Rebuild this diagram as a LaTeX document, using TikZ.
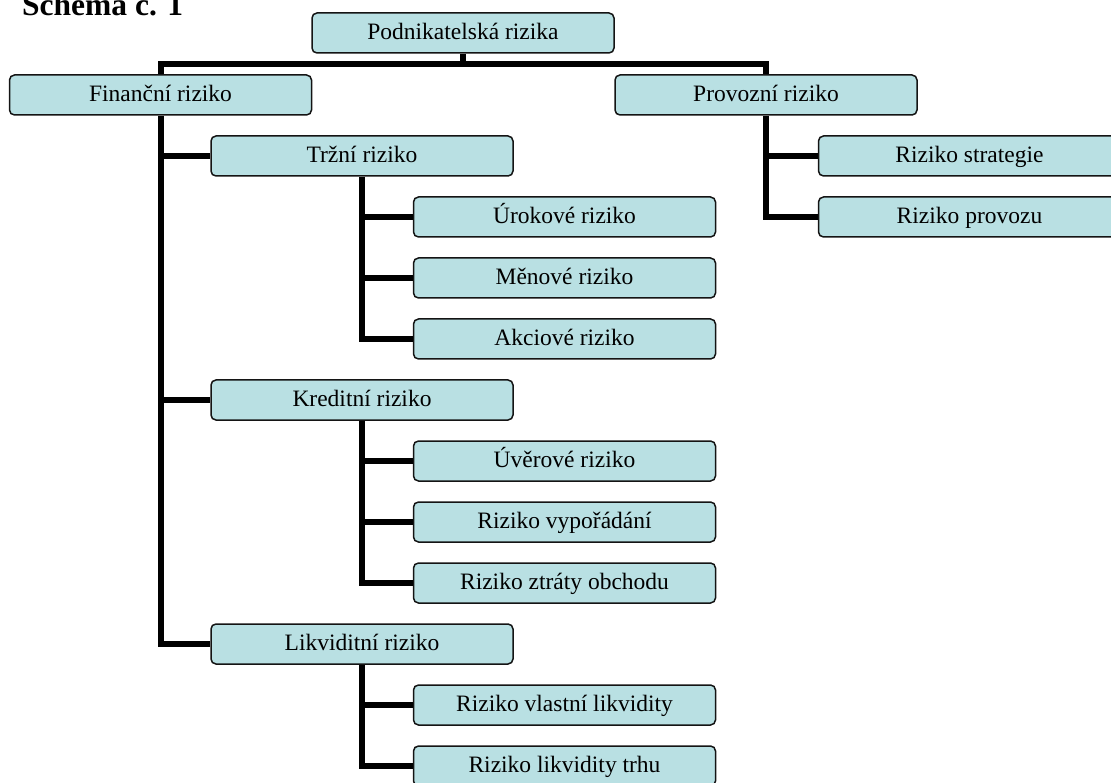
\documentclass[tikz,border=0pt]{standalone}
\usepackage{fontspec}
\setmainfont{Liberation Serif}
\usetikzlibrary{backgrounds}
\definecolor{boxfill}{RGB}{185,224,227}
\definecolor{boxline}{RGB}{20,20,20}
\tikzset{
  rbox/.style={draw=boxline, line width=1.5pt, fill=boxfill, rounded corners=5pt,
    minimum width=302pt, minimum height=40pt, inner sep=0pt,
    text height=17pt, text depth=3.6pt,
    font=\fontsize{23.5pt}{26pt}\selectfont, text=black},
  conn/.style={line width=6pt, draw=black, line join=miter, line cap=butt}
}
\begin{document}
\begin{tikzpicture}[x=1pt,y=-1pt]
\useasboundingbox (0,0) rectangle (1111,783);
\clip (0,0) rectangle (1111,783);
\node[anchor=base west, inner sep=0pt, font=\fontsize{31.5pt}{34pt}\selectfont\bfseries] (title) at (22,16) {Schéma č. 1};
\node[rbox] (pod) at (463,33) {Podnikatelská rizika};
\node[rbox] (fin) at (160.5,95) {Finanční riziko};
\node[rbox] (pro) at (766,95) {Provozní riziko};
\node[rbox] (trz) at (362,156) {Tržní riziko};
\node[rbox] (uro) at (564.5,217) {Úrokové riziko};
\node[rbox] (men) at (564.5,278) {Měnové riziko};
\node[rbox] (akc) at (564.5,339) {Akciové riziko};
\node[rbox] (kre) at (362,400) {Kreditní riziko};
\node[rbox] (uve) at (564.5,461) {Úvěrové riziko};
\node[rbox] (vyp) at (564.5,522) {Riziko vypořádání};
\node[rbox] (ztr) at (564.5,583) {Riziko ztráty obchodu};
\node[rbox] (lik) at (362,644) {Likviditní riziko};
\node[rbox] (vla) at (564.5,705) {Riziko vlastní likvidity};
\node[rbox] (trh) at (564.5,766) {Riziko likvidity trhu};
\node[rbox] (str) at (969.5,156) {Riziko strategie};
\node[rbox] (prv) at (969.5,217) {Riziko provozu};
\coordinate (j0) at (463,64);
\begin{scope}[on background layer]
\draw[conn] (pod.south) -- (j0);
\draw[conn] (fin.north) -- (fin.north |- j0) -- (pro.north |- j0) -- (pro.north);
\draw[conn] (fin.south) |- (lik.west);
\draw[conn] (fin.south |- trz.west) -- (trz.west);
\draw[conn] (fin.south |- kre.west) -- (kre.west);
\draw[conn] (trz.south) |- (akc.west);
\draw[conn] (trz.south |- uro.west) -- (uro.west);
\draw[conn] (trz.south |- men.west) -- (men.west);
\draw[conn] (kre.south) |- (ztr.west);
\draw[conn] (kre.south |- uve.west) -- (uve.west);
\draw[conn] (kre.south |- vyp.west) -- (vyp.west);
\draw[conn] (lik.south) |- (trh.west);
\draw[conn] (lik.south |- vla.west) -- (vla.west);
\draw[conn] (pro.south) |- (prv.west);
\draw[conn] (pro.south |- str.west) -- (str.west);
\end{scope}
\end{tikzpicture}
\end{document}
